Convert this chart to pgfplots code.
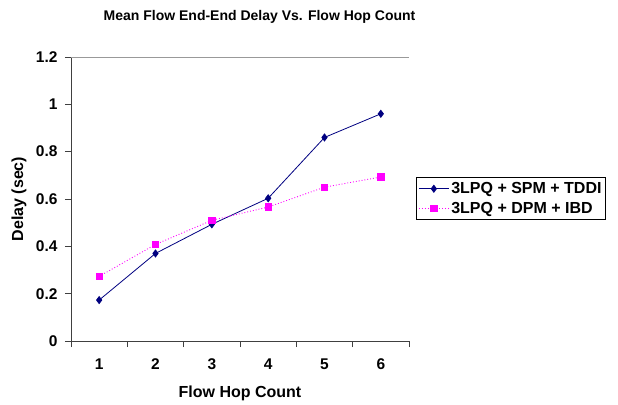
\documentclass[border=0pt]{standalone}
\usepackage{pgfplots}
\pgfplotsset{compat=1.18}
\usepackage{fontspec}
\setmainfont{Liberation Sans}
\definecolor{navyc}{RGB}{0,0,128}
\definecolor{magc}{RGB}{255,0,255}
\begin{document}
\begin{tikzpicture}
\useasboundingbox (0,0) rectangle (618pt,404pt);
\node[font=\fontsize{14}{16}\selectfont\bfseries, anchor=base] at (259.5pt,383.3pt) {Mean Flow End-End Delay Vs. Flow Hop Count};
\begin{axis}[
  at={(71pt,63pt)}, anchor=south west,
  width=338pt, height=284pt, scale only axis,
  xmin=0.5, xmax=6.5, ymin=0, ymax=1.2,
  axis x line*=bottom, axis y line*=left,
  axis line style={-, black!75},
  xtick={0.5,1.5,...,6.5},
  xticklabels={1,2,3,4,5,6,},
  xticklabel style={xshift=28.17pt, yshift=-8pt},
  ytick={0,0.2,...,1.2},
  tick align=outside, major tick length=6pt,
  tick style={black!75, line width=0.6pt},
  /pgf/number format/assume math mode=true,
  ticklabel style={font=\fontsize{15.5}{18}\selectfont\bfseries},
  yticklabel style={/pgf/number format/fixed, xshift=-4pt},
  every axis y label/.style={at={(axis description cs:0,0.5)}, xshift=-52pt, rotate=90, anchor=center, font=\fontsize{16}{19}\selectfont\bfseries},
  every axis x label/.style={at={(axis description cs:0.5,0)}, yshift=-52pt, anchor=center, font=\fontsize{16}{19}\selectfont\bfseries},
  ylabel={Delay (sec)},
  xlabel={Flow Hop Count},
  legend style={at={(1.021,0.577)}, anchor=north west, draw=black, line width=0.6pt,
    font=\fontsize{16}{19}\selectfont\bfseries, inner xsep=2pt, inner ysep=3pt, row sep=3pt},
  legend cell align=left,
  legend image code/.code={\draw[mark repeat=2,mark phase=2] plot coordinates {(0pt,0pt) (15pt,0pt) (30pt,0pt)};},
]
\addplot[navyc, line width=0.8pt, mark=diamond*, mark size=3.5pt] coordinates {
(1,0.173) (2,0.37) (3,0.493) (4,0.603) (5,0.86) (6,0.96)};
\addlegendentry{3LPQ + SPM + TDDI}
\addplot[magc, dotted, line width=0.9pt, mark=square*, mark size=3.2pt, mark options={solid}] coordinates {
(1,0.273) (2,0.408) (3,0.51) (4,0.566) (5,0.65) (6,0.693)};
\addlegendentry{3LPQ + DPM + IBD}
\draw[black!40, line width=0.8pt] (rel axis cs:0,1) -- (rel axis cs:1,1) -- (rel axis cs:1,0);
\end{axis}
\end{tikzpicture}
\end{document}
